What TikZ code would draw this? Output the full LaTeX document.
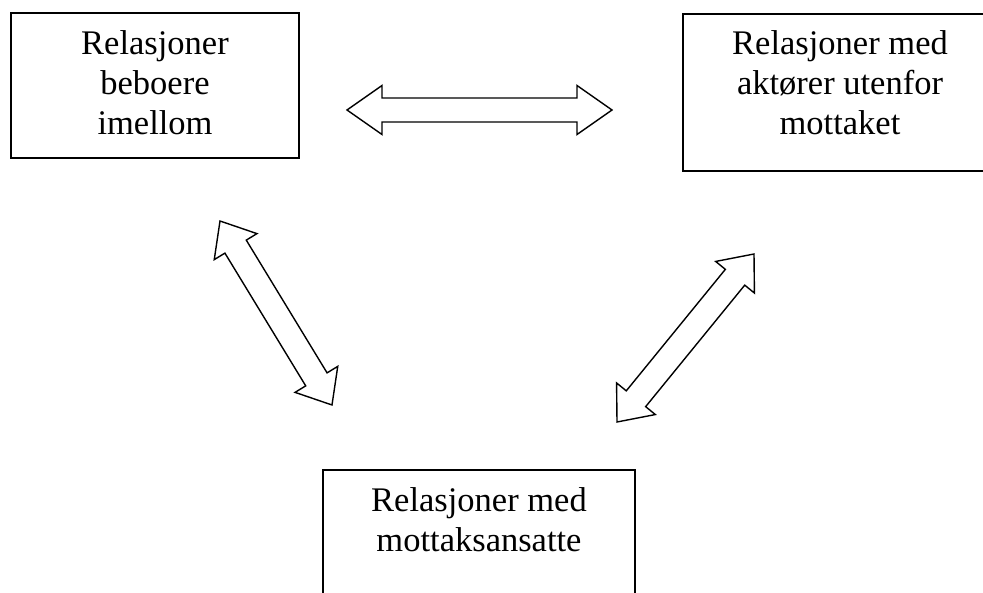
\documentclass[tikz,border=0pt]{standalone}
\usepackage{fontspec}
\setmainfont{Liberation Serif}
\usetikzlibrary{calc}
\tikzset{
  boxnode/.style={draw=black, line width=1.6pt, rectangle, inner sep=0pt},
  boxtext/.style={align=center, inner sep=0pt, anchor=north, font=\fontsize{34.5}{40}\selectfont},
  blockarrowline/.style={draw=black, fill=white, line width=1.4pt, line join=miter},
}
\newcommand{\dblblockarrow}[5]{%
  \path[blockarrowline] let \p1=(#1), \p2=(#2),
    \n1={atan2(\y2-\y1,\x2-\x1)}, \n2={veclen(\x2-\x1,\y2-\y1)} in
    [shift={(\p1)}, rotate=\n1]
    (0,0) -- (#5,#4) -- (#5,#3) -- ({\n2-#5},#3) -- ({\n2-#5},#4) -- ({\n2},0)
    -- ({\n2-#5},-#4) -- ({\n2-#5},-#3) -- (#5,-#3) -- (#5,-#4) -- cycle;}
\begin{document}
\begin{tikzpicture}[x=1pt,y=-1pt]
\clip (0,0) rectangle (983,593);
\fill[white] (0,0) rectangle (983,593);
% boxes
\node[boxnode, minimum width=288pt, minimum height=145pt] (b1) at (155,85.5) {};
\node[boxnode, minimum width=314pt, minimum height=157pt] (b2) at (840,92.5) {};
\node[boxnode, minimum width=312pt, minimum height=170pt] (b3) at (479,555) {};
% texts
\node[boxtext] (t1) at ($(b1.north)+(0,18.5)$) {Relasjoner\\beboere\\imellom};
\node[boxtext] (t2) at ($(b2.north)+(0,17.5)$) {Relasjoner med\\aktører utenfor\\mottaket};
\node[boxtext] (t3) at ($(b3.north)+(0,18.5)$) {Relasjoner med\\mottaksansatte};
% arrow ends
\coordinate (h1) at (347,110); \coordinate (h2) at (612,110);
\coordinate (l1) at (220,221); \coordinate (l2) at (332,405);
\coordinate (r1) at (754,254); \coordinate (r2) at (617,422);
\dblblockarrow{h1}{h2}{12}{24.5}{35}
\dblblockarrow{l1}{l2}{12.5}{25}{30}
\dblblockarrow{r1}{r2}{12.5}{25}{30}
\end{tikzpicture}
\end{document}
